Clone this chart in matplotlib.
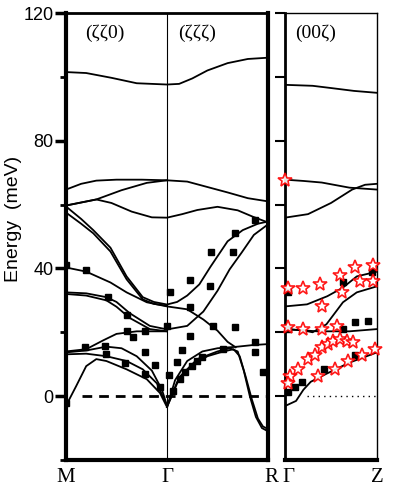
import matplotlib
matplotlib.use("Agg")
import matplotlib.pyplot as plt
from matplotlib.ticker import MultipleLocator

# ---- data (q in reduced units, energy in meV) ----
# left panel: M (q=0) -> Gamma (q=1) -> R (q=2)
left_curves = [
    [(0, 101.5), (0.2, 101.2), (0.45, 99.7), (0.7, 98.0), (1.0, 97.6), (1.12, 97.8),
     (1.25, 99.5), (1.4, 102.0), (1.6, 104.3), (1.8, 105.6), (2.0, 106.0)],
    [(0, 64.7), (0.15, 66.5), (0.3, 67.5), (0.5, 67.8), (0.75, 67.8), (1.0, 67.6),
     (1.2, 67.2), (1.4, 65.5), (1.6, 63.8), (1.8, 62.0), (2.0, 61.0)],
    [(0, 59.7), (0.3, 61.6), (0.55, 64.5), (0.8, 66.8), (1.0, 67.6)],
    [(0, 59.7), (0.3, 61.6), (0.45, 60.5), (0.65, 57.8), (0.85, 56.0), (1.0, 55.9),
     (1.15, 57.0), (1.3, 58.3), (1.5, 59.3), (1.7, 58.2), (1.85, 56.2), (2.0, 54.4)],
    [(0, 59.4), (0.15, 55.5), (0.27, 52.0), (0.44, 46.5), (0.6, 37.5), (0.76, 31.0),
     (0.87, 29.5), (1.0, 28.7), (1.1, 29.5), (1.2, 31.5), (1.32, 35.0), (1.43, 40.5),
     (1.6, 48.5), (1.75, 52.0), (1.9, 54.0), (2.0, 54.7)],
    [(0, 57.5), (0.15, 54.0), (0.27, 51.0), (0.44, 45.3), (0.6, 36.6), (0.76, 30.3),
     (0.87, 28.9), (1.0, 28.3)],
    [(0, 40.3), (0.2, 39.0), (0.44, 35.6), (0.6, 32.5), (0.8, 29.4), (1.0, 28.1),
     (1.2, 27.2), (1.36, 24.0), (1.5, 20.5), (1.6, 17.0), (1.68, 15.3)],
    [(0, 32.5), (0.2, 32.2), (0.4, 31.0), (0.5, 29.5), (0.63, 26.0), (0.83, 22.0),
     (1.0, 20.9), (1.2, 22.0), (1.36, 26.5), (1.5, 33.0), (1.62, 39.7), (1.74, 45.0),
     (1.86, 50.5), (2.0, 53.8)],
    [(0, 32.0), (0.2, 31.5), (0.4, 30.0), (0.5, 28.0), (0.63, 24.5), (0.83, 21.0),
     (1.0, 20.3)],
    [(0, 14.0), (0.2, 14.7), (0.37, 17.5), (0.5, 19.5), (0.7, 20.3), (1.0, 20.3)],
    [(0, 13.7), (0.2, 14.3), (0.4, 15.5), (0.55, 15.0), (0.7, 12.5), (0.85, 8.0),
     (0.95, 2.0), (1.0, -3.0)],
    [(0, 13.1), (0.2, 13.3), (0.4, 12.5), (0.6, 11.0), (0.76, 8.4), (0.9, 4.0), (1.0, -3.0)],
    [(0, -3.0), (0.1, 3.1), (0.2, 9.4), (0.3, 11.6), (0.4, 11.0), (0.6, 8.4),
     (0.8, 5.3), (0.93, 1.0), (1.0, -3.4)],
    [(1.0, -3.4), (1.1, 4.4), (1.24, 9.4), (1.4, 12.5), (1.56, 14.0), (1.66, 14.7),
     (1.72, 12.5), (1.78, 6.0), (1.84, -1.0), (1.9, -7.0), (1.95, -9.5), (2.0, -10.3)],
    [(1.0, -3.4), (1.13, 6.2), (1.3, 11.6), (1.5, 14.0), (1.62, 15.0), (1.7, 14.0),
     (1.76, 8.0), (1.82, 0.0), (1.88, -6.5), (1.94, -10.0), (2.0, -11.0)],
    [(1.0, -3.4), (1.08, 5.0), (1.2, 11.0), (1.35, 14.0), (1.5, 15.0), (1.7, 15.5),
     (1.85, 16.0), (2.0, 16.3)],
]

left_sq_q = [0, 0.2, 0.42, 0.6, 0.6, 0.66, 0.78, 0.78, 0.58, 0.88, 0.19, 0.39, 0.4,
             0.78, 0.93, 1.0, 1.02, 1.03, 1.06, 1.1, 1.13, 1.15, 1.18, 1.23, 1.23,
             1.23, 1.25, 1.3, 1.35, 1.43, 1.44, 1.46, 1.55, 1.65, 1.67, 1.67, 1.87,
             1.87, 1.87, 1.95, 0.0]
left_sq_e = [41.2, 39.5, 30.9, 25.3, 20.3, 18.6, 20.5, 13.9, 10.3, 9.7, 15.3, 15.8, 13.1,
             6.9, 3.0, 21.9, 6.5, 32.5, 1.6, 10.8, 5.3, 14.3, 7.5, 36.3, 27.8,
             18.8, 9.4, 11.0, 12.2, 34.4, 45.0, 22.0, 14.7, 45.3, 51.2, 21.6, 55.3,
             16.9, 13.7, 7.5, -2.0]

# right panel: Gamma (q=0) -> Z (q=1)
right_curves = [
    [(0, 97.5), (0.3, 97.2), (0.5, 96.5), (0.75, 95.6), (1.0, 95.0)],
    [(0, 67.8), (0.2, 67.4), (0.4, 66.9), (0.7, 65.3), (1.0, 64.7)],
    [(0, 55.9), (0.25, 57.0), (0.5, 60.5), (0.73, 64.7), (0.87, 66.2), (1.0, 66.5)],
    [(0, 28.1), (0.24, 28.75), (0.46, 31.3), (0.63, 34.0), (0.78, 37.5), (1.0, 39.0)],
    [(0, 21.0), (0.2, 20.6), (0.3, 20.0), (0.45, 22.5), (0.63, 29.4), (0.78, 32.5), (1.0, 34.4)],
    [(0, 21.0), (0.35, 20.3), (0.7, 20.3), (1.0, 21.0)],
    [(0, -3.1), (0.12, -1.5), (0.2, 2.0), (0.28, 4.5), (0.45, 7.0), (0.7, 10.5), (1.0, 13.7)],
]

right_sq_q = [0.03, 0.03, 0.03, 0.11, 0.18, 0.63, 0.76, 0.9, 0.95, 0.42, 0.63, 0.76]
right_sq_e = [32.5, 21.0, 1.2, 2.8, 4.4, 21.0, 23.1, 23.4, 38.8, 8.4, 35.6, 13.0]

right_star_q = [0.03, 0.2, 0.38, 0.6, 0.76, 0.96, 0.82, 0.96, 0.62, 0.4,
                0.03, 0.2, 0.4, 0.57,
                0.05, 0.14, 0.25, 0.33, 0.4, 0.47, 0.52, 0.6, 0.67, 0.74,
                0.36, 0.54, 0.68, 0.84, 0.98, 0.03, 0.0]
right_star_e = [34.0, 34.0, 35.0, 38.0, 40.6, 41.2, 36.0, 36.0, 32.5, 28.1,
                21.6, 21.0, 21.0, 22.0,
                6.2, 8.4, 11.6, 13.0, 15.3, 16.2, 17.2, 17.8, 17.2, 16.9,
                6.2, 8.4, 11.0, 13.0, 14.7, 4.0, 67.8]

fig = plt.figure(figsize=(3.93, 4.90), dpi=100)
ax1 = fig.add_axes([66 / 393, 1 - 460 / 490, 202 / 393, 447 / 490])
ax2 = fig.add_axes([285 / 393, 1 - 460 / 490, 92 / 393, 447 / 490])

serif = ["Liberation Serif", "DejaVu Serif"]
sans = ["Liberation Sans", "DejaVu Sans"]

for c in left_curves:
    ax1.plot([p[0] for p in c], [p[1] for p in c], color="black", lw=1.3,
             solid_joinstyle="round", zorder=3)
ax1.plot(left_sq_q, left_sq_e, "s", color="black", ms=5, zorder=4)
ax1.axvline(1.0, color="black", lw=0.8, zorder=1)
ax1.plot([0.16, 2.0], [0, 0], color="black", lw=2, ls=(0, (3.5, 2.5)), zorder=2)

ax1.set_xlim(0, 2)
ax1.set_ylim(-20, 120)
ax1.set_xticks([])
ax1.set_yticks([0, 40, 80, 120])
ax1.yaxis.set_minor_locator(MultipleLocator(20))
ax1.tick_params(axis="y", which="major", length=8, width=2.5, labelsize=13, pad=1)
ax1.tick_params(axis="y", which="minor", length=4, width=2)
for lab in ax1.get_yticklabels():
    lab.set_family(sans)
for s in ["left", "bottom", "right"]:
    ax1.spines[s].set_linewidth(3)
ax1.spines["top"].set_linewidth(2)

fig.text(14 / 393, 1 - 219 / 490, "Energy  (meV)", rotation=90, ha="center",
         va="center", fontsize=14, family=sans)

ax1.text(0.19, 0.955, "(ζζ0)", transform=ax1.transAxes, ha="center", va="center",
         fontsize=14, family=serif)
ax1.text(1.3, 0.955 * 140 - 20, "(ζζζ)", ha="center", va="center",
         fontsize=14, family=serif)

for c in right_curves:
    ax2.plot([p[0] for p in c], [p[1] for p in c], color="black", lw=1.3,
             solid_joinstyle="round", zorder=3)
ax2.plot(right_sq_q, right_sq_e, "s", color="black", ms=5, zorder=4)
ax2.plot(right_star_q, right_star_e, "*", mfc="white", mec="red", mew=1.2, ms=10,
         alpha=0.9, zorder=5, clip_on=False)
ax2.plot([0.24, 1.0], [0, 0], color="black", lw=1, ls=(0, (1, 3)), zorder=2)
ax2.set_xlim(0, 1)
ax2.set_ylim(-20, 120)
ax2.set_xticks([])
ax2.set_yticks([0, 20, 40, 60, 80, 100, 120])
ax2.set_yticklabels([])
ax2.tick_params(axis="y", length=7, width=1.5)
ax2.spines["left"].set_linewidth(2)
ax2.spines["bottom"].set_linewidth(3)
ax2.spines["top"].set_linewidth(1)
ax2.spines["right"].set_linewidth(1)
ax2.text(0.33, 0.955, "(00ζ)", transform=ax2.transAxes, ha="center", va="center",
         fontsize=14, family=serif)

# x point labels
for x, lab in [(66, "M"), (167, "Γ"), (271, "R"), (288, "Γ"), (377, "Z")]:
    fig.text(x / 393, 1 - 477 / 490, lab, ha="center", va="center", fontsize=15,
             family=serif)

fig.savefig("out.png", dpi=100)
